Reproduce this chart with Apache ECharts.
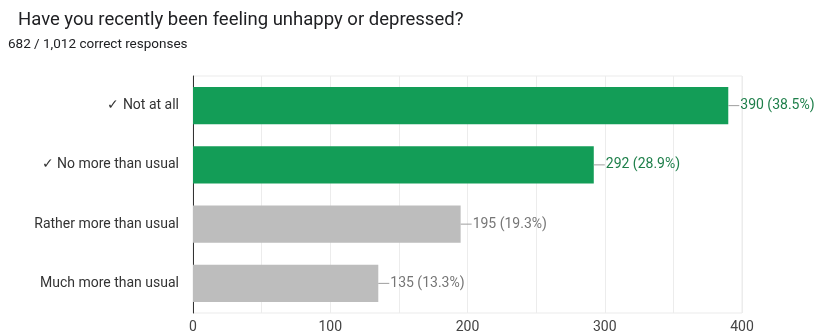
<!DOCTYPE html>
<html>
<head>
<meta charset="utf-8">
<script src="https://cdn.jsdelivr.net/npm/echarts@6/dist/echarts.min.js"></script>
<style>
  html, body { margin: 0; padding: 0; background: #fff; }
  #chart { width: 819px; height: 336px; }
</style>
</head>
<body>
<div id="chart"></div>
<script>
// Survey question: response counts per answer option
const categories = ['✓ Not at all', '✓ No more than usual', 'Rather more than usual', 'Much more than usual'];
const counts = [390, 292, 195, 135];
const correct = [true, true, false, false];
const totalResponses = 1012;
const correctResponses = 682;
const xTicks = [0, 100, 200, 300, 400];

const GREEN = '#139d57';
const GREEN_TEXT = '#1e7f4a';
const GRAY = '#bdbdbd';
const GRAY_TEXT = '#767676';

const chart = echarts.init(document.getElementById('chart'));

const barData = counts.map((v, i) => ({
  value: v,
  itemStyle: { color: correct[i] ? GREEN : GRAY },
  label: {
    rich: {
      line: { width: 11, height: 1, backgroundColor: '#9e9e9e' },
      val: {
        fontFamily: 'Roboto',
        fontSize: 14,
        color: correct[i] ? GREEN_TEXT : GRAY_TEXT,
        padding: [0, 0, 0, 1]
      }
    }
  }
}));

chart.setOption({
  animation: false,
  title: [
    {
      text: 'Have you recently been feeling unhappy or depressed?',
      left: 13,
      top: 6,
      textStyle: { fontFamily: 'Roboto', fontSize: 18.5, fontWeight: 'normal', color: '#202124' }
    },
    {
      text: correctResponses + ' / ' + totalResponses.toLocaleString('en-US') + ' correct responses',
      left: 3,
      top: 33,
      textStyle: { fontFamily: 'Roboto', fontSize: 13.5, fontWeight: 'normal', color: '#202124' }
    }
  ],
  grid: {
    left: 193, right: 77, top: 76, bottom: 23,
    show: true, borderColor: '#ebebeb', borderWidth: 1
  },
  xAxis: {
    type: 'value',
    min: 0, max: 400, interval: 50,
    axisLine: { show: false },
    axisTick: { show: false },
    splitLine: { lineStyle: { color: '#ececec', width: 1 } },
    axisLabel: {
      fontFamily: 'Roboto', fontSize: 14, color: '#444', margin: 7,
      formatter: v => (xTicks.includes(v) ? String(v) : '')
    }
  },
  yAxis: {
    type: 'category',
    data: categories,
    inverse: true,
    axisLine: { show: true, lineStyle: { color: '#333', width: 1 } },
    axisTick: { show: false },
    splitLine: { show: false },
    axisLabel: { fontFamily: 'Roboto', fontSize: 14, color: '#333', margin: 14 }
  },
  series: [{
    type: 'bar',
    data: barData,
    barCategoryGap: '37%',
    label: {
      show: true,
      position: 'right',
      distance: 0,
      formatter: p => '{line|}{val|' + p.value + ' (' + (p.value / totalResponses * 100).toFixed(1) + '%)}'
    }
  }]
});
</script>
</body>
</html>
